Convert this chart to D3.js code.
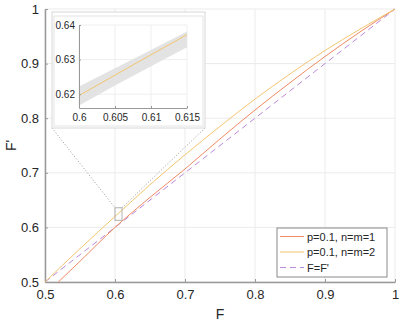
<!DOCTYPE html>
<html>
<head>
<meta charset="utf-8">
<script src="https://cdn.jsdelivr.net/npm/d3@7"></script>
<style>
  body { margin: 0; background: #fff; }
  text { font-family: "Liberation Sans", Arial, sans-serif; fill: #262626; }
</style>
</head>
<body>
<svg id="chart" width="407" height="327"></svg>
<script>
// data
const fValues = [0.5, 0.55, 0.6, 0.65, 0.7, 0.75, 0.8, 0.85, 0.9, 0.95, 1.0]
const orangeF = [0.519, 0.55, 0.6, 0.65, 0.7, 0.75, 0.8, 0.85, 0.9, 0.95, 1.0]
const orangeY = [0.5, 0.538, 0.6, 0.655, 0.707, 0.762, 0.815, 0.865, 0.913, 0.958, 1.0]
const yellowY = [0.5, 0.561, 0.62, 0.678, 0.733, 0.785, 0.835, 0.881, 0.924, 0.963, 1.0]
const diagY = [0.5, 0.55, 0.6, 0.65, 0.7, 0.75, 0.8, 0.85, 0.9, 0.95, 1.0]

const insetF = [0.6, 0.605, 0.61, 0.615]
const insetY = [0.6196, 0.6255, 0.6314, 0.6372]
const insetLow = [0.6167, 0.6225, 0.6281, 0.6336]
const insetHigh = [0.6222, 0.6275, 0.6328, 0.6381]

const xTicks = [0.5, 0.6, 0.7, 0.8, 0.9, 1]
const yTicks = [0.5, 0.6, 0.7, 0.8, 0.9, 1]
const insetXTicks = [0.6, 0.605, 0.61, 0.615]
const insetYTicks = [0.62, 0.63, 0.64]
const zoomBox = { x0: 0.6, x1: 0.61, y0: 0.613, y1: 0.636 }

const legendItems = [
    { label: 'p=0.1, n=m=1', color: '#ef8a62', dash: null },
    { label: 'p=0.1, n=m=2', color: '#f3c56f', dash: null },
    { label: 'F=F\'', color: '#b98ad9', dash: '6,4' }
]

const svg = d3.select('#chart')

const x = d3.scaleLinear().domain([0.5, 1]).range([45, 395])
const y = d3.scaleLinear().domain([0.5, 1]).range([282, 9])

// grid
svg.append('g')
    .selectAll('line')
    .data(xTicks)
    .join('line')
    .attr('x1', d => x(d)).attr('x2', d => x(d))
    .attr('y1', y(0.5)).attr('y2', y(1))
    .attr('stroke', '#ebebeb')
svg.append('g')
    .selectAll('line')
    .data(yTicks)
    .join('line')
    .attr('x1', x(0.5)).attr('x2', x(1))
    .attr('y1', d => y(d)).attr('y2', d => y(d))
    .attr('stroke', '#ebebeb')

// axes
const xAxis = d3.axisBottom(x).tickValues(xTicks).tickFormat(d3.format('')).tickSizeInner(-3).tickSizeOuter(0).tickPadding(8)
const yAxis = d3.axisLeft(y).tickValues(yTicks).tickFormat(d3.format('')).tickSizeInner(-3).tickSizeOuter(0).tickPadding(6)

const gx = svg.append('g').attr('transform', `translate(0,${y(0.5)})`).call(xAxis)
const gy = svg.append('g').attr('transform', `translate(${x(0.5)},0)`).call(yAxis)
;[gx, gy].forEach(g => {
    g.select('.domain').attr('stroke', '#999').attr('stroke-width', 1.5)
    g.selectAll('.tick line').attr('stroke', '#999')
    g.selectAll('.tick text').style('font-size', '13px').style('fill', '#262626')
        .style('font-family', '"Liberation Sans", Arial, sans-serif')
})

// lines
const line = d3.line().x(d => x(d[0])).y(d => y(d[1])).curve(d3.curveMonotoneX)

svg.append('path')
    .datum(fValues.map((f, i) => [f, diagY[i]]))
    .attr('d', line)
    .attr('fill', 'none')
    .attr('stroke', legendItems[2].color)
    .attr('stroke-width', 1)
    .attr('stroke-dasharray', legendItems[2].dash)

svg.append('path')
    .datum(orangeF.map((f, i) => [f, orangeY[i]]))
    .attr('d', line)
    .attr('fill', 'none')
    .attr('stroke', legendItems[0].color)
    .attr('stroke-width', 1)

svg.append('path')
    .datum(fValues.map((f, i) => [f, yellowY[i]]))
    .attr('d', line)
    .attr('fill', 'none')
    .attr('stroke', legendItems[1].color)
    .attr('stroke-width', 1)

// zoom marker and connectors
svg.append('rect')
    .attr('x', x(zoomBox.x0)).attr('y', y(zoomBox.y1))
    .attr('width', x(zoomBox.x1) - x(zoomBox.x0))
    .attr('height', y(zoomBox.y0) - y(zoomBox.y1))
    .attr('fill', 'none').attr('stroke', '#b0b0b0').attr('stroke-width', 1)

const frame = { left: 52, top: 12, right: 205, bottom: 128 }
svg.append('line')
    .attr('x1', frame.left).attr('y1', frame.bottom)
    .attr('x2', x(zoomBox.x0)).attr('y2', y(zoomBox.y1))
    .attr('stroke', '#9a9a9a').attr('stroke-dasharray', '1,2')
svg.append('line')
    .attr('x1', frame.right).attr('y1', frame.bottom)
    .attr('x2', x(zoomBox.x1)).attr('y2', y(zoomBox.y1))
    .attr('stroke', '#9a9a9a').attr('stroke-dasharray', '1,2')

// inset
svg.append('rect')
    .attr('x', frame.left).attr('y', frame.top)
    .attr('width', frame.right - frame.left).attr('height', frame.bottom - frame.top)
    .attr('fill', '#fff').attr('stroke', '#d8d8d8')
svg.append('rect')
    .attr('x', frame.left + 2).attr('y', frame.top + 4)
    .attr('width', frame.right - frame.left - 4).attr('height', frame.bottom - frame.top - 6)
    .attr('fill', '#fff').attr('stroke', '#e4e4e4')

const ix = d3.scaleLinear().domain([0.6, 0.615]).range([79, 187])
const iy = d3.scaleLinear().domain([0.616, 0.64]).range([108, 25])

const inset = svg.append('g')
inset.append('g')
    .selectAll('line')
    .data(insetXTicks)
    .join('line')
    .attr('x1', d => ix(d)).attr('x2', d => ix(d))
    .attr('y1', iy(0.616)).attr('y2', iy(0.64))
    .attr('stroke', '#efefef')
inset.append('g')
    .selectAll('line')
    .data(insetYTicks)
    .join('line')
    .attr('x1', ix(0.6)).attr('x2', ix(0.615))
    .attr('y1', d => iy(d)).attr('y2', d => iy(d))
    .attr('stroke', '#efefef')

inset.append('path')
    .datum(insetF.map((f, i) => [f, insetLow[i], insetHigh[i]]))
    .attr('d', d3.area().x(d => ix(d[0])).y0(d => iy(d[1])).y1(d => iy(d[2])))
    .attr('fill', '#e3e3e3')

inset.append('path')
    .datum(insetF.map((f, i) => [f, insetY[i]]))
    .attr('d', d3.line().x(d => ix(d[0])).y(d => iy(d[1])))
    .attr('fill', 'none')
    .attr('stroke', legendItems[1].color)
    .attr('stroke-width', 1)

const ixAxis = d3.axisBottom(ix).tickValues(insetXTicks).tickFormat(d3.format('')).tickSizeInner(-2).tickSizeOuter(0).tickPadding(6)
const iyAxis = d3.axisLeft(iy).tickValues(insetYTicks).tickFormat(d3.format('')).tickSizeInner(-2).tickSizeOuter(0).tickPadding(4)
const igx = inset.append('g').attr('transform', `translate(0,${iy(0.616)})`).call(ixAxis)
const igy = inset.append('g').attr('transform', `translate(${ix(0.6)},0)`).call(iyAxis)
;[igx, igy].forEach(g => {
    g.select('.domain').attr('stroke', '#999').attr('stroke-width', 1)
    g.selectAll('.tick line').attr('stroke', '#999')
    g.selectAll('.tick text').style('font-size', '10px').style('fill', '#262626')
        .style('font-family', '"Liberation Sans", Arial, sans-serif')
})

// axis labels
svg.append('text')
    .attr('x', x(0.75)).attr('y', 319)
    .attr('text-anchor', 'middle')
    .style('font-size', '14px')
    .text('F')
svg.append('text')
    .attr('transform', `translate(16,${y(0.75)}) rotate(-90)`)
    .attr('text-anchor', 'middle')
    .style('font-size', '14px')
    .text('F\'')

// legend
const legend = svg.append('g').attr('transform', 'translate(277,228)')
legend.append('rect')
    .attr('width', 110).attr('height', 49)
    .attr('fill', '#fff').attr('stroke', '#8a8a8a').attr('stroke-width', 1)
const item = legend.selectAll('g.item')
    .data(legendItems)
    .join('g')
    .attr('class', 'item')
    .attr('transform', (d, i) => `translate(0,${8.5 + i * 15.5})`)
item.append('line')
    .attr('x1', 3).attr('x2', 27)
    .attr('stroke', d => d.color)
    .attr('stroke-dasharray', d => d.dash)
item.append('text')
    .attr('x', 30).attr('y', 4)
    .style('font-size', '11px')
    .text(d => d.label)
</script>
</body>
</html>
